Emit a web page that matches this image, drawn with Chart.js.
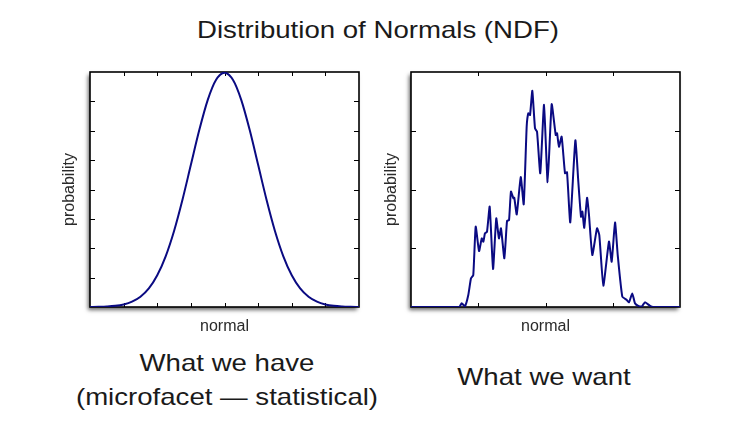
<!DOCTYPE html>
<html><head><meta charset="utf-8">
<script src="https://cdn.jsdelivr.net/npm/chart.js@4/dist/chart.umd.min.js"></script>
<style>
html,body{margin:0;padding:0;background:#fff;width:729px;height:423px;overflow:hidden;position:relative;font-family:"Liberation Sans",Arial,sans-serif;}
.txt{position:absolute;width:440px;text-align:center;white-space:nowrap;color:#1a1a1a;font-size:24px;line-height:24px;transform:scaleX(1.15);transform-origin:center;}
canvas{position:absolute;}
</style></head><body>
<div class="txt" style="left:157.5px;top:18px;">Distribution of Normals (NDF)</div>
<div class="txt" style="left:6.5px;top:350.5px;">What we have</div>
<div class="txt" style="left:6.5px;top:384.7px;">(microfacet — statistical)</div>
<div class="txt" style="left:324px;top:364.7px;">What we want</div>
<canvas id="c1" width="307" height="272" style="left:56px;top:68px;width:307px;height:272px;"></canvas>
<canvas id="c2" width="306" height="272" style="left:378px;top:68px;width:306px;height:272px;"></canvas>
<script>
// Left panel: smooth distribution (x in "normal" units, y probability)
const haveX = [-4,-3.75,-3.5,-3.25,-3,-2.75,-2.5,-2.25,-2,-1.75,-1.5,-1.25,-1,-0.75,-0.5,-0.25,0,
               0.25,0.5,0.75,1,1.25,1.5,1.75,2,2.25,2.5,2.75,3,3.25,3.5,3.75,4];
const haveY = [0.0001,0.0004,0.0009,0.0020,0.0044,0.0091,0.0175,0.0317,0.0540,0.0863,0.1295,0.1826,0.2420,0.3011,0.3521,0.3867,0.3989,
               0.3867,0.3521,0.3011,0.2420,0.1826,0.1295,0.0863,0.0540,0.0317,0.0175,0.0091,0.0044,0.0020,0.0009,0.0004,0.0001];
const haveXRange = [-4, 4], haveXStep = 1;
const haveYRange = [0, 0.4], haveYStep = 0.05;

// Right panel: noisy measured distribution
const wantX = [0,35.9,37.7,40.1,42.6,44.6,46.3,48.1,50.6,52.6,53.8,55.0,56.5,58.5,61.0,63.4,65.4,66.9,69.4,71.4,72.9,
               74.3,76.1,76.8,78.6,81.6,83.8,86.0,87.2,88.5,90.2,92.2,93.7,96.1,98.9,101.6,104.6,107.6,108.6,110.0,
               112.0,114.5,116.0,118.4,122.2,124.4,126.4,127.4,128.8,130.9,132.3,134.8,138.3,140.0,143.0,147.2,149.2,
               151.7,153.7,157.1,160.4,162.1,164.5,166.5,169.0,171.7,174.0,177.7,180,200];
const wantY = [0,0,1.6,0.3,5.1,12.2,13.6,34.2,23.8,29.2,27.8,31.4,32.0,42.7,16.2,37.7,29.2,33.5,20.7,36.6,37.0,
               49.1,46.3,46.5,39.4,55.3,43.7,76.7,82.4,81.7,92.0,76.0,74.6,56.9,86.0,53.1,86.3,73.2,73.9,68.2,
               72.5,56.9,57.3,36.0,70.9,53.3,38.4,40.6,33.7,46.5,39.4,22.1,33.5,30.6,9.1,27.8,19.3,
               36.0,22.1,4.4,3.0,2.0,5.8,1.6,0.5,0.3,2.0,0.5,0,0];
const wantXRange = [0, 200], wantXStep = 50;
const wantYRange = [0, 100], wantYStep = 25;

const lineColor = '#0a0a82';

const framePlugin = {
  id: 'frame',
  beforeDatasetsDraw(chart) {
    const {ctx, chartArea: a, scales: {x, y}} = chart;
    ctx.save();
    ctx.shadowColor = 'rgba(0,0,0,0.6)';
    ctx.shadowBlur = 4;
    ctx.shadowOffsetX = -2;
    ctx.shadowOffsetY = 3;
    ctx.fillStyle = '#fff';
    ctx.fillRect(a.left, a.top, a.width, a.height);
    ctx.restore();
    ctx.save();
    ctx.strokeStyle = '#000';
    ctx.lineWidth = 1;
    ctx.beginPath();
    x.ticks.forEach(t => {
      if (t.value <= x.min || t.value >= x.max) return;
      const px = Math.round(x.getPixelForValue(t.value)) + 0.5;
      ctx.moveTo(px, a.bottom); ctx.lineTo(px, a.bottom - 4);
      ctx.moveTo(px, a.top); ctx.lineTo(px, a.top + 4);
    });
    y.ticks.forEach(t => {
      if (t.value <= y.min || t.value >= y.max) return;
      const py = Math.round(y.getPixelForValue(t.value)) + 0.5;
      ctx.moveTo(a.left, py); ctx.lineTo(a.left + 5, py);
      ctx.moveTo(a.right, py); ctx.lineTo(a.right - 5, py);
    });
    ctx.stroke();
    ctx.lineWidth = 1.6;
    ctx.strokeRect(a.left, a.top, a.width, a.height);
    ctx.restore();
  }
};

function makeChart(id, xs, ys, xr, xs_step, yr, ys_step, yWidth, smooth) {
  const pts = xs.map((v, i) => ({x: v, y: ys[i]}));
  const titleFont = {family: '"Liberation Sans", Arial, sans-serif', size: 16};
  return new Chart(document.getElementById(id), {
    type: 'line',
    data: {datasets: [{data: pts, borderColor: lineColor, borderWidth: 2, pointRadius: 0,
      tension: smooth ? 0.4 : 0.15, cubicInterpolationMode: smooth ? 'monotone' : 'default', fill: false,
      borderJoinStyle: 'round', borderCapStyle: 'round'}]},
    options: {
      responsive: false, animation: false, devicePixelRatio: 1,
      layout: {padding: {top: 4, right: 4, bottom: 0, left: 0}},
      plugins: {legend: {display: false}, tooltip: {enabled: false}},
      scales: {
        x: {type: 'linear', min: xr[0], max: xr[1],
            ticks: {display: false, stepSize: xs_step},
            grid: {display: false, drawTicks: false}, border: {display: false},
            title: {display: true, text: 'normal', color: '#2a2a2a', font: titleFont, padding: {top: 4, bottom: 4}},
            afterFit(s) { s.height = 33; }},
        y: {type: 'linear', min: yr[0], max: yr[1],
            ticks: {display: false, stepSize: ys_step},
            grid: {display: false, drawTicks: false}, border: {display: false},
            title: {display: true, text: 'probability', color: '#2a2a2a', font: titleFont, padding: {top: 4, bottom: 4}},
            afterFit(s) { s.width = yWidth; }}
      }
    },
    plugins: [framePlugin]
  });
}

makeChart('c1', haveX, haveY, haveXRange, haveXStep, haveYRange, haveYStep, 34, true);
makeChart('c2', wantX, wantY, wantXRange, wantXStep, wantYRange, wantYStep, 33, false);
</script>
</body></html>
